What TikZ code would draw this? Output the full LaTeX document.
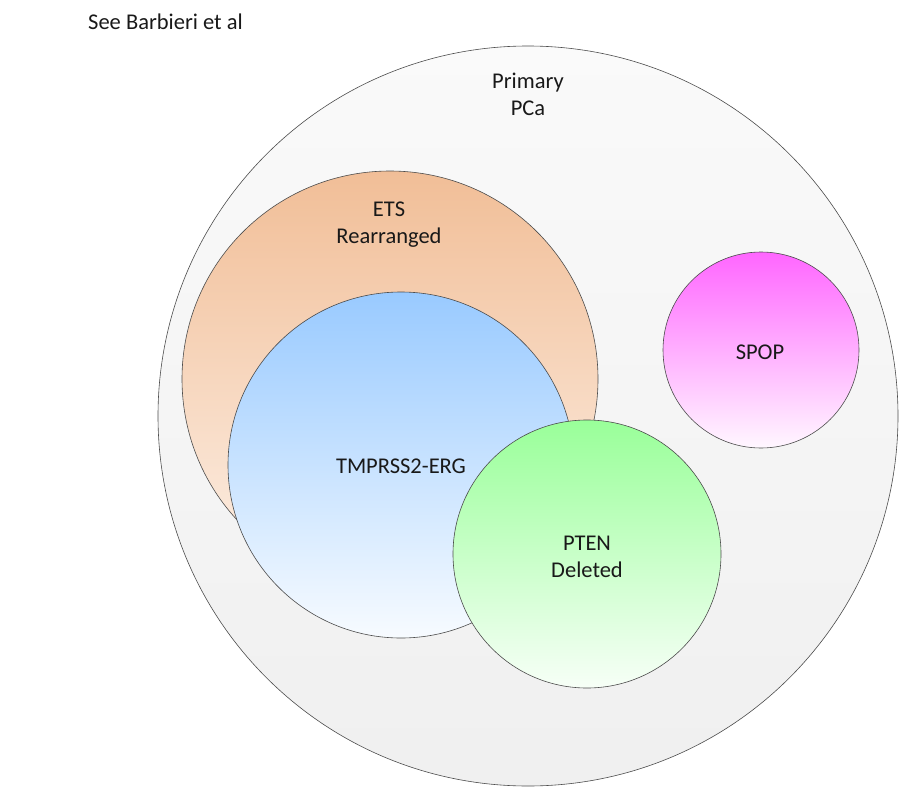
\documentclass[tikz,border=0pt]{standalone}
\usepackage{fontspec}
\setmainfont{Carlito}
\begin{document}
\begin{tikzpicture}[x=1pt,y=-1pt,
  blob/.style={circle, draw=black!70, line width=0.6pt, inner sep=0pt},
  lbl/.style={align=center, inner sep=0pt, font=\fontsize{22.5}{27}\selectfont, text=black!90}]
\useasboundingbox (0,0) rectangle (902,792);
\fill[white] (0,0) rectangle (902,792);
\node[blob, minimum size=740pt, top color=white!98!black, bottom color=black!6] (pca) at (528,416) {};
\node[blob, minimum size=416pt, top color={rgb,255:red,241;green,190;blue,151}, bottom color={rgb,255:red,253;green,240;blue,230}] (ets) at (390,379) {};
\node[blob, minimum size=346pt, top color={rgb,255:red,153;green,202;blue,255}, bottom color={rgb,255:red,247;green,251;blue,255}] (tmp) at (401,465) {};
\node[blob, minimum size=268pt, top color={rgb,255:red,153;green,255;blue,153}, bottom color={rgb,255:red,247;green,255;blue,247}] (pten) at (587,554) {};
\node[blob, minimum size=196pt, top color={rgb,255:red,255;green,102;blue,255}, bottom color={rgb,255:red,255;green,247;blue,255}] (spop) at (761,350) {};
\node[lbl, anchor=west] (see) at (88,22) {See Barbieri et al};
\node[lbl] (tpca) at (528,94) {Primary\\PCa};
\node[lbl] (tets) at (389,225) {ETS\\Rearranged};
\node[lbl] (ttmp) at (401,466) {TMPRSS2-ERG};
\node[lbl] (tpten) at (587,557) {PTEN\\Deleted};
\node[lbl] (tspop) at (760,352) {SPOP};
\end{tikzpicture}
\end{document}
